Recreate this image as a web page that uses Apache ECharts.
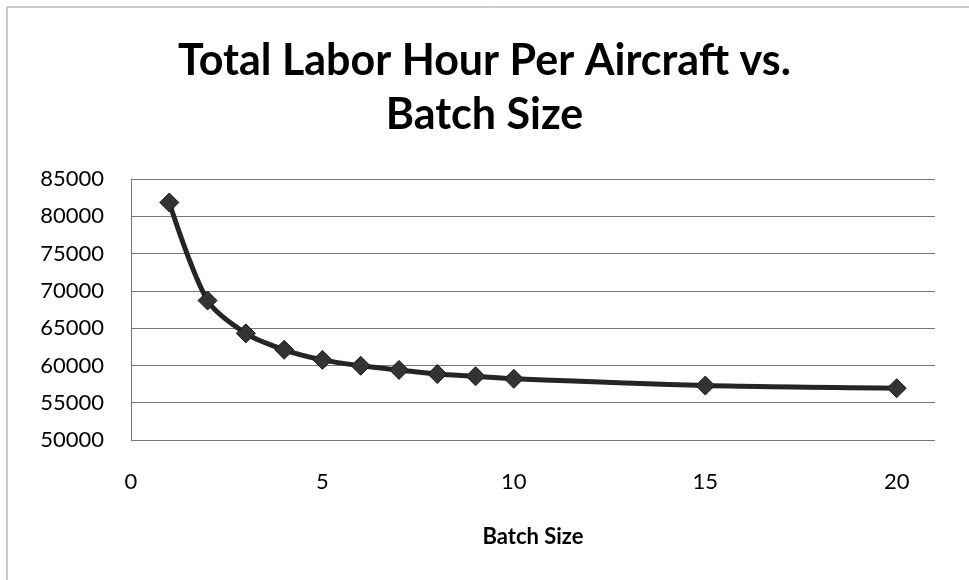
<!DOCTYPE html>
<html><head><meta charset="utf-8">
<script src="https://cdn.jsdelivr.net/npm/echarts@6/dist/echarts.min.js"></script>
<style>html,body{margin:0;padding:0;background:#fff}#c{width:969px;height:580px}</style>
</head><body><div id="c"></div>
<script>
const batchSize = [1, 2, 3, 4, 5, 6, 7, 8, 9, 10, 15, 20];
const laborHours = [81850, 68700, 64300, 62100, 60750, 59950, 59400, 58850, 58550, 58200, 57300, 56950];
const titleText = 'Total Labor Hour Per Aircraft vs.\nBatch Size';
const xName = 'Batch Size';

const chart = echarts.init(document.getElementById('c'));
const font = 'Lato, "Open Sans", sans-serif';
chart.setOption({
  animation: false,
  backgroundColor: '#fff',
  graphic: [{type: 'rect', shape: {x: 7, y: 7, width: 980, height: 600}, style: {fill: 'none', stroke: '#999', lineWidth: 1}}],
  title: {text: titleText, left: 'center', top: 29,
    textStyle: {fontFamily: font, fontWeight: 'bold', fontSize: 43, lineHeight: 54, color: '#000'}},
  grid: {left: 131, top: 179, right: 34, bottom: 140},
  xAxis: {type: 'value', min: 0, max: 21, interval: 5,
    name: xName, nameLocation: 'middle', nameGap: 86,
    nameTextStyle: {fontFamily: font, fontWeight: 'bold', fontSize: 22, color: '#000'},
    axisLine: {show: false}, axisTick: {show: false}, splitLine: {show: false},
    axisLabel: {fontFamily: font, fontSize: 22, color: '#000', margin: 31,
      formatter: v => (v % 5 === 0 ? String(v) : '')}},
  yAxis: {type: 'value', min: 50000, max: 85000, interval: 5000,
    axisLine: {show: true, lineStyle: {color: '#777', width: 1}}, axisTick: {show: false},
    splitLine: {show: true, lineStyle: {color: '#777', width: 1}},
    axisLabel: {fontFamily: font, fontSize: 22, color: '#000', margin: 27,
      formatter: v => String(v)}},
  series: [{type: 'line', data: batchSize.map((x, i) => [x, laborHours[i]]),
    smooth: 0.3, symbol: 'diamond', symbolSize: 19,
    lineStyle: {color: '#252525', width: 5},
    itemStyle: {color: '#333', borderColor: '#1a1a1a', borderWidth: 1}}]
});
</script></body></html>
